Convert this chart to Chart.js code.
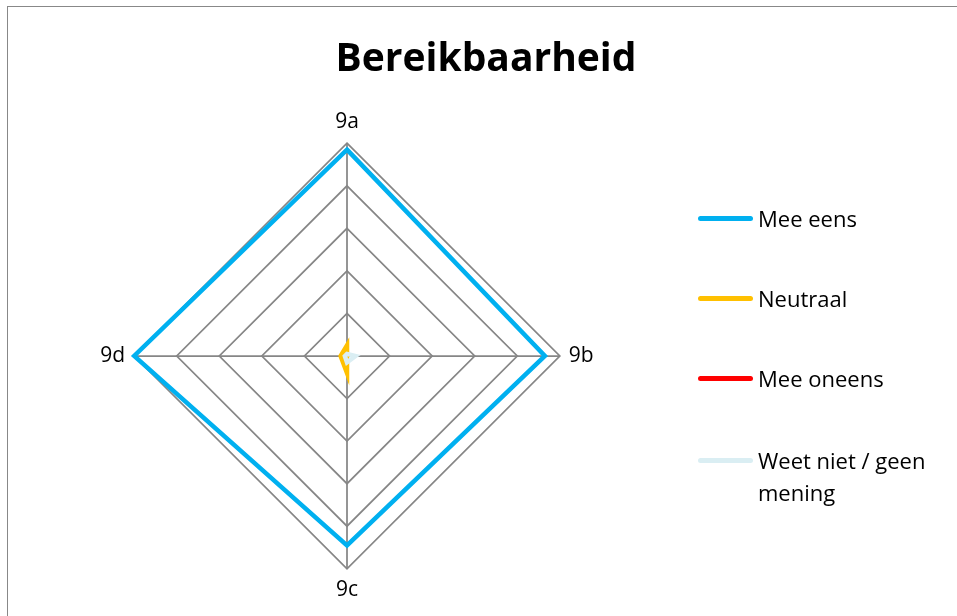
<!DOCTYPE html>
<html>
<head>
<meta charset="utf-8">
<script src="https://cdn.jsdelivr.net/npm/chart.js@4.4.1/dist/chart.umd.min.js"></script>
<style>
  html, body { margin: 0; padding: 0; background: #fff; }
  #wrap { position: relative; width: 957px; height: 616px; overflow: hidden; }
  #frame { position: absolute; left: 7px; top: 6px; width: 980px; height: 640px; border: 1px solid #888; }
  #chart { position: absolute; left: 0; top: 0; }
  #title { position: absolute; left: 7px; width: 958px; top: 28px; text-align: center;
           font: bold 39px "Open Sans", sans-serif; color: #000; line-height: 56px; }
  .item { position: absolute; left: 698px; font: 22px "Open Sans", sans-serif; color: #000; line-height: 32px; }
  .item .swatch { position: absolute; left: 0; top: 14px; width: 55px; height: 5px; border-radius: 3px; }
  .item .label { position: absolute; left: 60px; top: 0; width: 200px; }
</style>
</head>
<body>
<div id="wrap">
  <div id="frame"></div>
  <canvas id="chart" width="957" height="616"></canvas>
  <div id="title">Bereikbaarheid</div>
  <div id="legend"></div>
</div>
<script>
var $axes = ['9a', '9b', '9c', '9d'];
var $series = ['Mee eens', 'Neutraal', 'Mee oneens', 'Weet niet / geen mening'];
var $colors = ['#00B0F0', '#FFC000', '#FF0000', '#DAEEF3'];

var meeEens = [97, 93, 89, 100];
var neutraal = [5, 0, 8, 3];
var meeOneens = [0, 0, 0, 0];
var weetNiet = [1, 4, 3, 1];

var values = [meeEens, neutraal, meeOneens, weetNiet];

document.addEventListener('DOMContentLoaded', function () {
    /* legenda */
    var legend = document.getElementById('legend');
    var tops = [202, 282, 362, 444];
    $series.forEach(function (name, i) {
        var item = document.createElement('div');
        item.className = 'item';
        item.style.top = tops[i] + 'px';
        item.innerHTML = '<div class="swatch" style="background:' + $colors[i] + '"></div>' +
            '<div class="label">' + name.replace(' mening', '<br>mening') + '</div>';
        legend.appendChild(item);
    });

    /* radar */
    var ctx = document.getElementById('chart').getContext('2d');

    new Chart(ctx, {
        type: 'radar',
        data: {
            labels: $axes,
            datasets: $series.map(function (name, i) {
                return {
                    label: name,
                    data: values[i],
                    borderColor: $colors[i],
                    backgroundColor: 'rgba(0,0,0,0)',
                    borderWidth: 4.5,
                    pointRadius: 0,
                    fill: false,
                    order: $series.length - i
                };
            })
        },
        options: {
            responsive: false,
            animation: false,
            layout: {
                padding: { left: 0, right: 263, top: 110, bottom: 12 }
            },
            plugins: {
                legend: { display: false },
                tooltip: { enabled: false }
            },
            scales: {
                r: {
                    min: 0,
                    max: 100,
                    ticks: { display: false, stepSize: 20 },
                    grid: { color: '#868686', lineWidth: 1.75 },
                    angleLines: { color: '#868686', lineWidth: 1.75 },
                    pointLabels: {
                        color: '#000',
                        font: { family: 'Open Sans', size: 21 },
                        padding: 9
                    }
                }
            }
        }
    });
});
</script>
</body>
</html>
